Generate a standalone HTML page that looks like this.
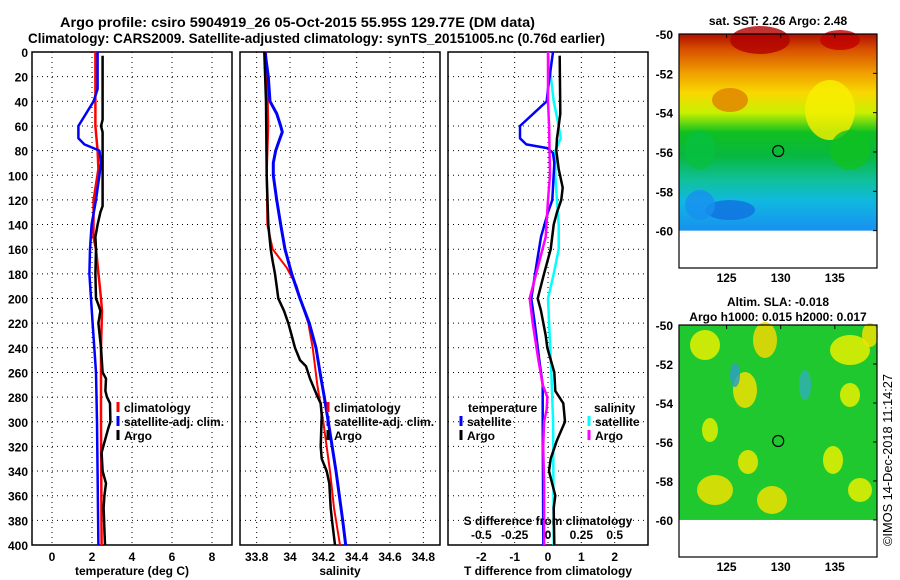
<!DOCTYPE html>
<html><head><meta charset="utf-8"><style>
html,body{margin:0;padding:0;background:#fff;width:900px;height:580px;overflow:hidden}
svg{display:block;font-family:"Liberation Sans",sans-serif}
.tk{font-size:12px;font-weight:bold}
.lg{font-size:12px;font-weight:bold}
</style></head><body>
<svg id="fig" width="900" height="580" viewBox="0 0 900 580">
<text x="60" y="27" font-size="14" font-weight="bold" textLength="475" lengthAdjust="spacingAndGlyphs">Argo profile: csiro 5904919_26 05-Oct-2015 55.95S 129.77E (DM data)</text>
<text x="28" y="43" font-size="14" font-weight="bold" textLength="577" lengthAdjust="spacingAndGlyphs">Climatology: CARS2009. Satellite-adjusted climatology: synTS_20151005.nc (0.76d earlier)</text>
<g id="p1"></g>
<g id="p2"></g>
<g id="p3"></g>
<g id="m1"></g>
<g id="m2"></g>
<text transform="translate(892,546) rotate(-90)" font-size="13" textLength="172" lengthAdjust="spacingAndGlyphs">©IMOS 14-Dec-2018 11:14:27</text>
</svg>
<script>
// ---- data ----
const tClimD=[0,40,60,80,95,120,150,160,200,210,240,300,400];
const tClimV=[2.17,2.17,2.17,2.28,2.32,2.08,2.07,2.2,2.45,2.5,2.45,2.45,2.48];
const tSatD=[0,30,40,60,70,75,80,90,100,120,140,160,180,200,220,260,300,400];
const tSatV=[2.28,2.28,2.08,1.32,1.32,1.62,2.37,2.45,2.37,2.2,1.98,1.9,1.87,1.95,2.03,2.2,2.25,2.32];
const tArgoD=[3,55,60,65,100,125,130,140,150,160,180,200,205,210,220,240,260,265,275,280,285,300,305,315,325,340,350,360,370,400];
const tArgoV=[2.53,2.53,2.45,2.53,2.53,2.53,2.42,2.28,2.17,2.2,2.17,2.2,2.32,2.42,2.32,2.45,2.53,2.7,2.67,2.75,2.9,2.92,2.82,2.65,2.48,2.53,2.7,2.62,2.58,2.65];
const sClimD=[0,20,60,100,140,150,160,175,190,200,220,240,270,300,340,370,400];
const sClimV=[33.856,33.864,33.87,33.86,33.864,33.88,33.896,33.98,34.04,34.06,34.11,34.136,34.164,34.2,34.24,34.264,34.3];
const sSatD=[0,20,40,50,60,65,70,80,90,100,120,140,160,180,200,220,240,260,280,300,340,380,400];
const sSatV=[33.85,33.87,33.88,33.92,33.944,33.954,33.94,33.914,33.9,33.9,33.92,33.944,33.97,34.01,34.06,34.116,34.156,34.18,34.206,34.23,34.276,34.316,34.334];
const sArgoD=[0,40,100,140,160,170,180,190,200,210,220,230,240,250,255,265,280,285,295,320,330,340,350,360,370,380,400];
const sArgoV=[33.846,33.856,33.86,33.87,33.884,33.896,33.91,33.92,33.93,33.964,33.99,34.01,34.03,34.06,34.096,34.12,34.166,34.184,34.19,34.184,34.19,34.22,34.236,34.24,34.244,34.252,34.27];
const dTSatD=[0,30,40,60,70,75,78,82,90,120,130,150,170,200,220,250,270,300,400];
const dTSatV=[0.15,0,-0.04,-0.84,-0.84,-0.65,-0.02,0.15,0.19,0.13,0,-0.21,-0.33,-0.5,-0.4,-0.26,-0.16,-0.16,-0.14];
const dTArgoD=[3,50,60,70,80,95,110,120,130,140,160,180,200,210,230,240,260,275,285,300,315,330,340,360,370,400];
const dTArgoV=[0.35,0.37,0.32,0.27,0.25,0.32,0.44,0.4,0.27,0.17,0.08,-0.12,-0.31,-0.21,-0.07,-0.02,0.19,0.22,0.46,0.51,0.27,0.08,0.03,0.22,0.17,0.19];
const dSSatD=[0,40,60,70,80,100,120,140,160,180,200,220,260,300,400];
const dSSatV=[0,0.043,0.08,0.095,0.055,0.055,0.067,0.08,0.08,0.043,0,0.008,0.025,0.038,0.043];
const dSArgoD=[0,40,60,100,120,150,170,200,220,250,270,280,290,300,320,350,400];
const dSArgoV=[0,0,0.008,0.015,0,-0.017,-0.065,-0.137,-0.115,-0.072,-0.04,-0.005,-0.01,-0.029,-0.036,-0.029,-0.029];
const depthTicks=[0,20,40,60,80,100,120,140,160,180,200,220,240,260,280,300,320,340,360,380,400];
const tTicks=[0,2,4,6,8];
const sTicks=[33.8,34,34.2,34.4,34.6,34.8];
const dTTicks=[-2,-1,0,1,2];
const dSTicks=[-0.5,-0.25,0,0.25,0.5];
const dSTickLabels=["-0.5","-0.25","0","0.25","0.5"];
const latTicks=[-50,-52,-54,-56,-58,-60];
const lonTicks=[125,130,135];
const argoLon=129.77, argoLat=-55.95;

const NS="http://www.w3.org/2000/svg";
function mk(parent,tag,attrs){const e=document.createElementNS(NS,tag);for(const k in attrs)e.setAttribute(k,attrs[k]);parent.appendChild(e);return e;}
const TOP=52,BOT=545;
const yD=d=>TOP+(BOT-TOP)*d/400;
function lin(d0,d1,r0,r1){return v=>r0+(v-d0)*(r1-r0)/(d1-d0);}

function panel(g,x0,x1,xf,xticks,xlabels,xlabel,ylabels){
  xticks.forEach(t=>{const l=mk(g,'line',{x1:xf(t),x2:xf(t),y1:TOP,y2:BOT,stroke:'#000','stroke-width':1,'stroke-dasharray':'1 4'});
  
  });
  depthTicks.forEach(d=>{if(d===0||d===400)return;const l=mk(g,'line',{x1:x0,x2:x1,y1:yD(d),y2:yD(d),stroke:'#000','stroke-width':1,'stroke-dasharray':'1 4'});
  
  });
  const r=mk(g,'rect',{x:x0,y:TOP,width:x1-x0,height:BOT-TOP,fill:'none',stroke:'#000','stroke-width':1.5});
  
  
  xticks.forEach((t,i)=>{const tx=mk(g,'text',{x:xf(t),y:561,'text-anchor':'middle',class:'tk'});tx.textContent=xlabels[i];
  
  });
  if(xlabel){const tx=mk(g,'text',{x:(x0+x1)/2,y:575,'text-anchor':'middle',class:'tk'});tx.textContent=xlabel;
  
  }
  if(ylabels){depthTicks.forEach(d=>{const tx=mk(g,'text',{x:x0-4,y:yD(d)+5,'text-anchor':'end',class:'tk'});tx.textContent=d;
  
  });}
}
function series(g,xf,D,V,color,w,name){
  const pts=D.map((d,i)=>xf(V[i]).toFixed(1)+','+yD(d).toFixed(1)).join(' ');
  const p=mk(g,'polyline',{points:pts,fill:'none',stroke:color,'stroke-width':w,'stroke-linejoin':'round'});
  
  
}
function legend(g,x,y,color,label){
  const l=mk(g,'line',{x1:x,x2:x,y1:y-10,y2:y,stroke:color,'stroke-width':3});
  
  
  if(label){const t=mk(g,'text',{x:x+6,y:y,class:'lg'});t.textContent=label;
  
  }
}
const p1=document.getElementById('p1');const xT=lin(-1,9,32,232);
panel(p1,32,232,xT,tTicks,tTicks.map(String),'temperature (deg C)',true);
series(p1,xT,tClimD,tClimV,'#f00',2.5,'climatology-line');
series(p1,xT,tSatD,tSatV,'#00f',2.5,'satellite-adj-line');
series(p1,xT,tArgoD,tArgoV,'#000',2.5,'argo-line');
legend(p1,118,412,'#f00','climatology');legend(p1,118,426,'#00f','satellite-adj. clim.');legend(p1,118,440,'#000','Argo');
const p2=document.getElementById('p2');const xS=lin(33.7,34.9,240,440);
panel(p2,240,440,xS,sTicks,["33.8","34","34.2","34.4","34.6","34.8"],'salinity',false);
series(p2,xS,sClimD,sClimV,'#f00',2,'climatology-line');
series(p2,xS,sSatD,sSatV,'#00f',3,'satellite-adj-line');
series(p2,xS,sArgoD,sArgoV,'#000',2.5,'argo-line');
legend(p2,328,412,'#f00','climatology');legend(p2,328,426,'#00f','satellite-adj. clim.');legend(p2,328,440,'#000','Argo');
const p3=document.getElementById('p3');const xDT=lin(-3,3,448,648);const xDS=lin(-0.75,0.75,448,648);
panel(p3,448,648,xDT,dTTicks,dTTicks.map(String),'T difference from climatology',false);
series(p3,xDS,dSSatD,dSSatV,'#0ff',2.5,'salinity-satellite-diff-line');
series(p3,xDT,dTArgoD,dTArgoV,'#000',2.5,'temperature-argo-diff-line');
series(p3,xDT,dTSatD,dTSatV,'#00f',2.5,'temperature-satellite-diff-line');
series(p3,xDS,dSArgoD,dSArgoV,'#f0f',2.5,'salinity-argo-diff-line');
{const t=mk(p3,'text',{x:548,y:525,'text-anchor':'middle',class:'tk'});t.textContent='S difference from climatology';


dSTicks.forEach((s,i)=>{const tt=mk(p3,'text',{x:xDS(s),y:539,'text-anchor':'middle',class:'tk'});tt.textContent=dSTickLabels[i];

});}
{const t=mk(p3,'text',{x:468,y:412,class:'lg'});t.textContent='temperature';


const t2=mk(p3,'text',{x:594,y:412,class:'lg'});t2.textContent='salinity';

}
legend(p3,461,426,'#00f','satellite');legend(p3,461,440,'#000','Argo');
legend(p3,589,426,'#0ff','satellite');legend(p3,589,440,'#f0f','Argo');

function mapFrame(g,y0,y1,latBot,title1,title2,fillFn){
  const x0=679,x1=877;const xL=lin(120.6,138.9,x0,x1);const yL=lin(-50,latBot,y0,y1);
  const imgBottom=yL(-60);
  fillFn(g,x0,y0,x1,imgBottom);
  const r=mk(g,'rect',{x:x0,y:y0,width:x1-x0,height:y1-y0,fill:'none',stroke:'#000','stroke-width':1.2});
  
  
  latTicks.forEach(l=>{const t=mk(g,'text',{x:x0-6,y:yL(l)+5,'text-anchor':'end',class:'tk'});t.textContent=l;
  
  
  mk(g,'line',{x1:x1,x2:x1-4,y1:yL(l),y2:yL(l),stroke:'#000'});});
  lonTicks.forEach(l=>{const t=mk(g,'text',{x:xL(l),y:y1+14,'text-anchor':'middle',class:'tk'});t.textContent=l;
  
  
  mk(g,'line',{x1:xL(l),x2:xL(l),y1:y0,y2:y0+4,stroke:'#000'});});
  const c=mk(g,'circle',{cx:xL(argoLon),cy:yL(argoLat),r:5.5,fill:'none',stroke:'#000','stroke-width':1.2});
  
  
  const t1=mk(g,'text',{x:778,y:title2?y0-19:y0-9,'text-anchor':'middle',class:'tk'});t1.textContent=title1;
  
  
  if(title2){const t2=mk(g,'text',{x:778,y:y0-4,'text-anchor':'middle',class:'tk'});t2.textContent=title2;
  
  }
}
function sstFill(g,x0,y0,x1,y1){
  const defs=mk(g,'defs',{});
  const lg=mk(defs,'linearGradient',{id:'sstg',x1:0,y1:0,x2:0,y2:1});
  [[0,'#b01000'],[0.08,'#d85000'],[0.2,'#f0a000'],[0.3,'#f8d800'],[0.4,'#c8f000'],[0.5,'#10c020'],[0.62,'#08b840'],[0.75,'#10c0a0'],[0.85,'#10b8e0'],[1,'#1890f0']].forEach(s=>mk(lg,'stop',{offset:s[0],'stop-color':s[1]}));
  mk(g,'rect',{x:x0,y:y0,width:x1-x0,height:y1-y0,fill:'url(#sstg)'});
  [[760,40,30,14,'#b00000'],[840,40,20,10,'#c00000'],[730,100,18,12,'#e08000'],[830,110,25,30,'#f8f000'],[700,150,15,20,'#08c040'],[850,150,20,20,'#10c020'],[730,210,25,10,'#1070e0'],[700,205,15,15,'#1890f0']].forEach(b=>mk(g,'ellipse',{cx:b[0],cy:b[1],rx:b[2],ry:b[3],fill:b[4],opacity:0.8}));
}
function slaFill(g,x0,y0,x1,y1){
  mk(g,'rect',{x:x0,y:y0,width:x1-x0,height:y1-y0,fill:'#20c830'});
  [[705,345,15,15,'#e8f000'],[765,340,12,18,'#f0d800'],[745,390,12,18,'#f0e000'],[850,350,20,15,'#e8f000'],[870,335,8,12,'#f0e000'],[735,375,5,12,'#30a0c0'],[805,385,6,15,'#30b0b0'],[710,430,8,12,'#e0f000'],[748,462,10,12,'#f0e800'],[833,460,10,14,'#e8f000'],[850,395,10,12,'#e8f000'],[715,490,18,15,'#f0e000'],[772,500,15,14,'#f0e000'],[860,490,12,12,'#e8f000']].forEach(b=>mk(g,'ellipse',{cx:b[0],cy:b[1],rx:b[2],ry:b[3],fill:b[4],opacity:0.85}));
}
mapFrame(document.getElementById('m1'),34,268,-61.9,'sat. SST: 2.26 Argo: 2.48',null,sstFill);
mapFrame(document.getElementById('m2'),325,557,-61.9,'Altim. SLA: -0.018','Argo h1000: 0.015 h2000: 0.017',slaFill);
</script>
</body></html>
